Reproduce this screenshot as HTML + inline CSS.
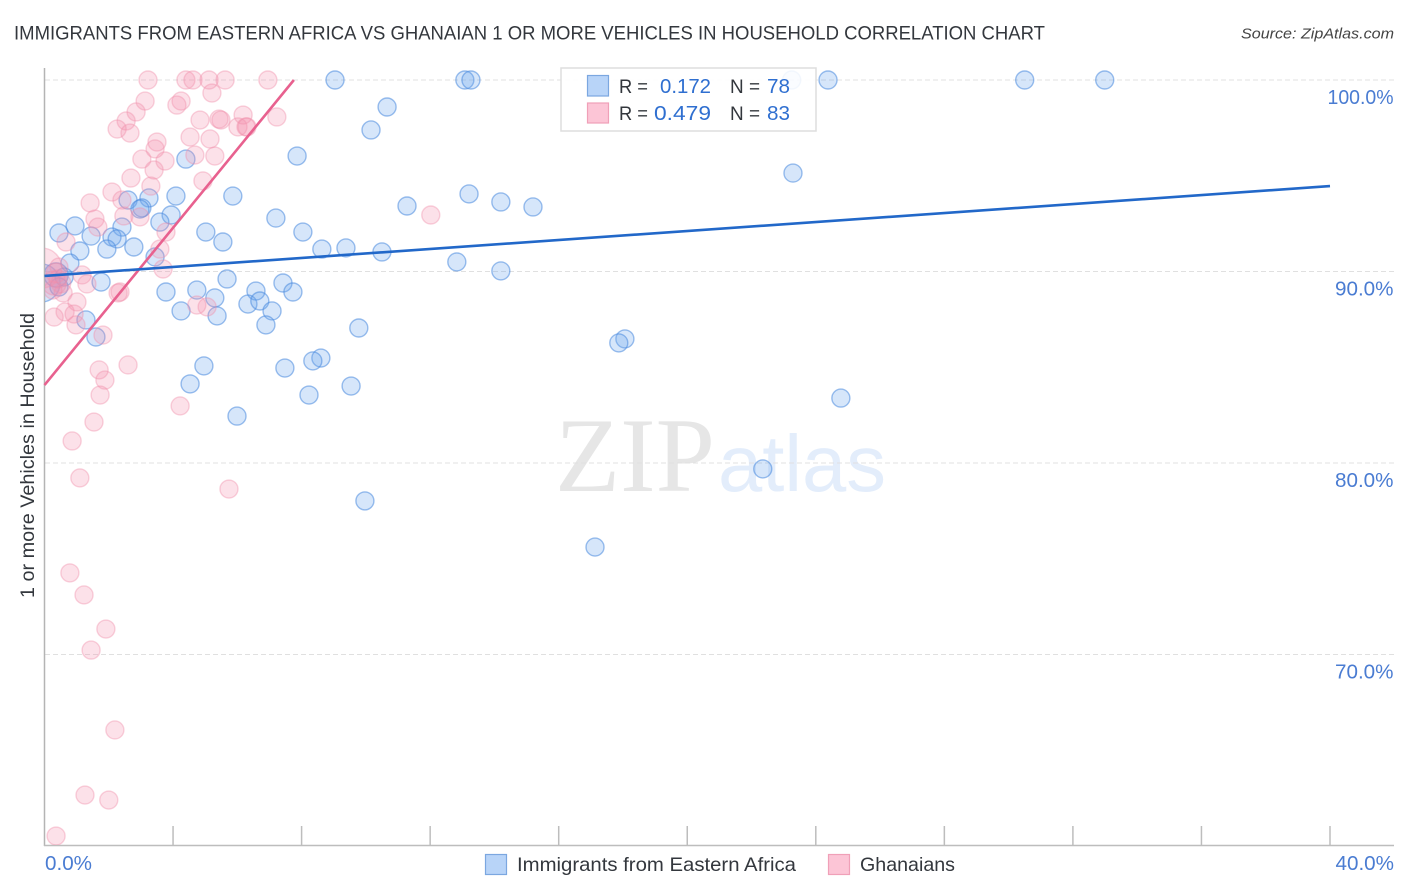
<!DOCTYPE html>
<html lang="en">
<head>
<meta charset="utf-8">
<title>Immigrants from Eastern Africa vs Ghanaian 1 or more Vehicles in Household Correlation Chart</title>
<style>
html,body{margin:0;padding:0;background:#fff;width:1406px;height:892px;overflow:hidden}
svg{display:block;font-family:"Liberation Sans",sans-serif}
</style>
</head>
<body>
<svg id="chart" xmlns="http://www.w3.org/2000/svg" width="1406" height="892" viewBox="0 0 1406 892">
  <defs><clipPath id="plot-clip"><rect x="45" y="60" width="1349" height="785"/></clipPath></defs>
  <text x="14" y="39.5" font-size="19" fill="#33373d" textLength="1031" lengthAdjust="spacingAndGlyphs">IMMIGRANTS FROM EASTERN AFRICA VS GHANAIAN 1 OR MORE VEHICLES IN HOUSEHOLD CORRELATION CHART</text>
  <text x="1241" y="38.5" font-size="15" font-style="italic" fill="#444" textLength="153" lengthAdjust="spacingAndGlyphs">Source: ZipAtlas.com</text>
  <g>
    <text x="555" y="491" font-family="'Liberation Serif',serif" font-size="106" fill="#e6e6e6" textLength="160" lengthAdjust="spacingAndGlyphs">ZIP</text>
    <text x="718" y="491" font-size="80" fill="#e3edfb" textLength="168" lengthAdjust="spacingAndGlyphs">atlas</text>
  </g>
  <g id="grid"></g>
  <g id="axes"></g>
  <g id="points" clip-path="url(#plot-clip)"></g>
  <g id="trends"></g>
  <g id="tick-labels"></g>
  <text transform="translate(34 598) rotate(-90)" font-size="19" fill="#33373d" textLength="285" lengthAdjust="spacingAndGlyphs">1 or more Vehicles in Household</text>

  <g>
    <rect x="561" y="68" width="255" height="63" fill="#fff" fill-opacity="0.88" stroke="#dedede" stroke-width="1.5"/>
    <rect x="587.5" y="75.5" width="21" height="20.5" fill="#b8d4f8" stroke="#7ba7e0" stroke-width="1.2"/>
    <rect x="587.5" y="103" width="21" height="20" fill="#fcc5d6" stroke="#f0a0b8" stroke-width="1.2"/>
    <text x="619" y="93" font-size="19.5" fill="#33373d" textLength="29" lengthAdjust="spacingAndGlyphs">R =</text>
    <text x="660" y="93" font-size="20.5" fill="#2f6fd0" textLength="51" lengthAdjust="spacingAndGlyphs">0.172</text>
    <text x="730" y="93" font-size="19.5" fill="#33373d" textLength="30" lengthAdjust="spacingAndGlyphs">N =</text>
    <text x="767" y="93" font-size="20.5" fill="#2f6fd0" textLength="23" lengthAdjust="spacingAndGlyphs">78</text>
    <text x="619" y="120" font-size="19.5" fill="#33373d" textLength="29" lengthAdjust="spacingAndGlyphs">R =</text>
    <text x="654" y="120" font-size="20.5" fill="#2f6fd0" textLength="57" lengthAdjust="spacingAndGlyphs">0.479</text>
    <text x="730" y="120" font-size="19.5" fill="#33373d" textLength="30" lengthAdjust="spacingAndGlyphs">N =</text>
    <text x="767" y="120" font-size="20.5" fill="#2f6fd0" textLength="23" lengthAdjust="spacingAndGlyphs">83</text>
  </g>

  <g>
    <rect x="485.5" y="854.5" width="21" height="20" fill="#b8d4f8" stroke="#7ba7e0" stroke-width="1.2"/>
    <text x="517" y="871" font-size="19.5" fill="#33373d" textLength="279" lengthAdjust="spacingAndGlyphs">Immigrants from Eastern Africa</text>
    <rect x="828.5" y="854.5" width="21" height="20" fill="#fcc5d6" stroke="#f0a0b8" stroke-width="1.2"/>
    <text x="860" y="871" font-size="19.5" fill="#33373d" textLength="95" lengthAdjust="spacingAndGlyphs">Ghanaians</text>
  </g>
</svg>
<script>
// ---- data (x = percent Immigrants from Eastern Africa / Ghanaian, y = percent with 1+ vehicles) ----
const yTickValues = [100, 90, 80, 70];
const yTickLabels = ["100.0%", "90.0%", "80.0%", "70.0%"];
const xTickValues = [0, 4, 8, 12, 16, 20, 24, 28, 32, 36, 40];
const xTickLabels = ["0.0%", "", "", "", "", "", "", "", "", "", "40.0%"];

const blueX = [9.04,13.08,13.27,23.25,24.38,30.50,32.99,10.66,10.16,7.86,4.40,23.29,5.86,4.09,3.25,2.60,3.03,2.97,13.21,14.20,15.20,11.28,3.94,7.20,0.95,0.45,5.02,8.04,2.41,3.59,1.45,2.10,2.26,5.55,1.94,2.78,1.10,8.63,9.38,10.50,3.44,12.83,14.20,0.79,5.68,1.76,7.42,6.58,7.73,4.74,3.78,5.30,6.33,6.70,4.25,7.08,5.37,1.29,6.89,9.78,1.60,18.06,17.87,8.60,8.35,4.96,7.48,4.53,9.54,8.23,24.78,5.99,22.35,9.97,17.13];
const blueY = [100,100,100,100,100,100,100,98.59,97.39,96.03,95.87,95.14,93.94,93.94,93.84,93.73,93.32,93.26,94.05,93.63,93.37,93.42,92.95,92.79,92.38,92.01,92.06,92.06,92.32,92.58,91.85,91.80,91.70,91.54,91.17,91.28,91.07,91.17,91.23,91.02,90.76,90.50,90.03,90.44,89.61,89.45,89.40,88.98,88.93,89.03,88.93,88.62,88.30,88.46,87.94,87.94,87.68,87.47,87.21,87.05,86.58,86.48,86.27,85.48,85.33,85.07,84.96,84.13,84.02,83.55,83.39,82.45,79.69,78.02,75.61];
const blueClusterX = [-0.11,0.36,0.61,0.45];
const blueClusterY = [89.40,89.82,89.71,89.19];
const blueClusterWeight = [4.5,1.8,1,1];

const pinkX = [3.22,4.40,4.62,5.12,5.62,6.95,5.21,4.25,4.12,3.13,2.85,2.54,2.26,2.66,4.84,5.43,5.49,6.18,6.02,6.27,6.30,7.23,4.53,5.15,3.50,3.44,3.03,3.75,4.68,5.30,3.41,2.69,3.31,4.93,2.10,2.41,1.42,12.02,2.97,2.47,1.57,1.66,0.67,3.78,3.59,3.69,1.17,1.32,2.29,2.35,4.74,5.06,1.01,0.64,0.92,0.30,0.98,1.82,2.60,1.70,1.88,1.73,4.22,1.54,0.86,1.10,5.74,0.79,1.23,1.91,1.45,2.19,1.26,2.00,0.36];
const pinkY = [100,100,100,100,100,100,99.32,98.90,98.69,98.90,98.33,97.86,97.44,97.23,97.91,97.96,97.91,98.17,97.55,97.55,97.55,98.07,97.02,96.92,96.76,96.40,95.87,95.77,96.08,96.03,95.30,94.88,94.46,94.73,94.15,93.73,93.58,92.95,92.85,92.90,92.74,92.32,91.54,92.06,91.17,90.13,89.82,89.35,88.88,88.93,88.25,88.15,88.41,87.89,87.78,87.62,87.21,86.68,85.12,84.86,84.33,83.55,82.98,82.14,81.15,79.22,78.64,74.26,73.11,71.33,70.23,66.06,62.66,62.40,60.52];
const pinkClusterX = [-0.08,0.45,0.36,0.51,0.30,0.58,0.26,0.42];
const pinkClusterY = [90.18,90.23,89.92,89.40,89.40,88.88,89.03,89.61];
const pinkClusterWeight = [4.9,1,1.2,1.2,1.8,1,1,1];

const blueTrendX = [0, 40];
const blueTrendY = [89.77, 94.46];
const pinkTrendX = [0, 7.76];
const pinkTrendY = [84.07, 100];

// ---- axis functions ----
const xScale = function (v) { return 44.5 + v * (1330 - 44.5) / 40; };
const yScale = function (v) { return 80 + (100 - v) * (654.5 - 80) / 30; };
const rScale = function (w) { return 9 * Math.sqrt(w); };
const labelWidth = function (s) { return s.length === 6 ? 66 : (s.length === 5 ? 58.5 : 47); };

const NS = "http://www.w3.org/2000/svg";
function make(tag, parent, attrs) {
  const el = document.createElementNS(NS, tag);
  for (const k in attrs) el.setAttribute(k, attrs[k]);
  parent.appendChild(el);
  return el;
}

const grid = document.getElementById("grid");
const axes = document.getElementById("axes");
const labels = document.getElementById("tick-labels");
const pts = document.getElementById("points");
const trends = document.getElementById("trends");

yTickValues.forEach(function (v, i) {
  const line = make("line", grid, {x1: 45, x2: 1394, y1: yScale(v), y2: yScale(v), stroke: "#e0e0e0", "stroke-width": 1, "stroke-dasharray": "5 3"});
  
  
  const t = make("text", labels, {x: 1393.5, y: yScale(v) + 24, "text-anchor": "end", "font-size": 20, fill: "#4a7cd2", textLength: labelWidth(yTickLabels[i]), lengthAdjust: "spacingAndGlyphs"});
  t.textContent = yTickLabels[i];
  
  
});

const yAxis = make("line", axes, {x1: 44.5, x2: 44.5, y1: 68, y2: 846, stroke: "#b4b4b4", "stroke-width": 1.5});


const xAxis = make("line", axes, {x1: 44, x2: 1394, y1: 845.5, y2: 845.5, stroke: "#bdbdbd", "stroke-width": 1.5});



xTickValues.forEach(function (v, i) {
  if (i > 0) {
    const tick = make("line", axes, {x1: xScale(v), x2: xScale(v), y1: 826, y2: 845, stroke: "#bdbdbd", "stroke-width": 1.5});
    
    
  }
  if (xTickLabels[i]) {
    const anchorEnd = i > 0;
    const t = make("text", labels, {x: anchorEnd ? 1394 : 45, y: 870, "text-anchor": anchorEnd ? "end" : "start", "font-size": 20, fill: "#4a7cd2", textLength: labelWidth(xTickLabels[i]), lengthAdjust: "spacingAndGlyphs"});
    t.textContent = xTickLabels[i];
    
    
  }
});

function drawDot(xv, yv, w, fill, stroke, fillOp, strokeOp, name) {
  const c = make("circle", pts, {cx: xScale(xv), cy: yScale(yv), r: rScale(w), fill: fill, "fill-opacity": fillOp, stroke: stroke, "stroke-opacity": strokeOp, "stroke-width": 1.4});
  
  
}

blueX.forEach(function (x, i) { drawDot(x, blueY[i], 1, "#6ba4ee", "#4a8ade", 0.28, 0.55, "point-eastern-africa"); });
blueClusterX.forEach(function (x, i) { drawDot(x, blueClusterY[i], blueClusterWeight[i], "#6ba4ee", "#4a8ade", 0.28, 0.55, "point-eastern-africa"); });
pinkX.forEach(function (x, i) { drawDot(x, pinkY[i], 1, "#f590ae", "#ef8fab", 0.27, 0.4, "point-ghanaians"); });
pinkClusterX.forEach(function (x, i) { drawDot(x, pinkClusterY[i], pinkClusterWeight[i], "#f590ae", "#ef8fab", 0.27, 0.4, "point-ghanaians"); });

const pinkLine = make("line", trends, {x1: xScale(pinkTrendX[0]), y1: yScale(pinkTrendY[0]), x2: xScale(pinkTrendX[1]), y2: yScale(pinkTrendY[1]), stroke: "#e8618f", "stroke-width": 2.6});


const blueLine = make("line", trends, {x1: xScale(blueTrendX[0]), y1: yScale(blueTrendY[0]), x2: xScale(blueTrendX[1]), y2: yScale(blueTrendY[1]), stroke: "#2268c9", "stroke-width": 2.6});


</script>
</body>
</html>
